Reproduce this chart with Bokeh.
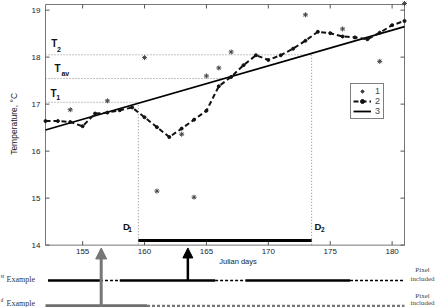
from bokeh.plotting import figure
from bokeh.models import (Range1d, Arrow, NormalHead, Legend, LegendItem)
from bokeh.embed import file_html
from bokeh.resources import INLINE
from bokeh.core.properties import value

# ---------------- data ----------------
obs_days = [154, 157, 160, 161, 163, 164, 165, 166, 167, 173, 176, 179, 181]
obs_temp = [16.88, 17.07, 17.99, 15.15, 16.36, 15.02, 17.60, 17.77, 18.11, 18.90, 18.60, 17.91, 19.14]

smooth_days = list(range(152, 182))
smooth_temp = [16.64, 16.64, 16.62, 16.53, 16.80, 16.82, 16.87, 16.93, 16.72, 16.51,
               16.30, 16.48, 16.67, 16.86, 17.38, 17.58, 17.83, 18.04, 17.94, 18.04,
               18.18, 18.35, 18.54, 18.51, 18.44, 18.42, 18.38, 18.52, 18.68, 18.77]

trend_days = [152, 181]
trend_temp = [16.45, 18.65]

thresh_main = ["T", "T", "T"]
thresh_sub = ["1", "av", "2"]
thresh_temp = [17.04, 17.545, 18.05]
thresh_day = [159.5, 166.5, 173.5]

period_main = ["D", "D"]
period_sub = ["1", "2"]
period_days = [159.5, 173.5]
period_temp = [17.04, 18.05]

x_ticks = [155, 160, 165, 170, 175, 180]
y_ticks = [14, 15, 16, 17, 18, 19]

ex1_solid_start = [152.2, 158.0, 168.15]
ex1_solid_end = [156.4, 165.7, 176.6]
ex1_dash_start = [156.4, 165.7, 176.6]
ex1_dash_end = [158.0, 168.15, 181.0]
ex2_solid_start = [152.0]
ex2_solid_end = [160.2]
ex2_dash_start = [160.2]
ex2_dash_end = [181.0]
arrow_days = [156.5, 163.5]

# ---------------- layout constants ----------------
X0, X1 = 152, 181          # plot box (days)
Y_AXIS, Y_TOP = 14, 19.12  # plot box (deg C)
PX_DAY = 359 / 29          # pixels per day
PX_DEG = 47.0              # pixels per degree
LEFT_PX, RIGHT_PX, TOP_PX, H_PX = 45, 40, 4, 307
EX1_Y = 13.25
EX2_Y = 12.70
ARROW_TIP_Y = 13.94

SANS = value("Liberation Sans")
SERIF = value("Liberation Serif")
AXC = "#777"

x_range = Range1d(X0 - LEFT_PX / PX_DAY, X1 + RIGHT_PX / PX_DAY)
y_top_canvas = Y_TOP + TOP_PX / PX_DEG
y_range = Range1d(y_top_canvas - H_PX / PX_DEG, y_top_canvas)

p = figure(width=444, height=307, output_backend="svg", toolbar_location=None,
           x_range=x_range, y_range=y_range, x_axis_location=None, y_axis_location=None,
           min_border_left=0, min_border_right=0, min_border_top=0, min_border_bottom=0)
p.outline_line_color = None
p.xgrid.visible = False
p.ygrid.visible = False
p.background_fill_color = "white"
p.border_fill_color = "white"

# ---------------- axes box, ticks, tick labels ----------------
p.segment(x0=[X0, X1, X0, X0], y0=[Y_AXIS, Y_AXIS, Y_TOP, Y_AXIS],
          x1=[X0, X1, X1, X1], y1=[Y_TOP, Y_TOP, Y_TOP, Y_AXIS],
          line_color=AXC, line_width=1)
ny, nx = len(y_ticks), len(x_ticks)
p.ray(x=[X0] * ny, y=y_ticks, length=4, length_units="screen", angle=0,
      line_color="#555", line_width=1)
p.ray(x=[X1] * ny, y=y_ticks, length=4, length_units="screen", angle=180,
      angle_units="deg", line_color="#555", line_width=1)
p.ray(x=x_ticks, y=[Y_TOP] * nx, length=4, length_units="screen", angle=-90,
      angle_units="deg", line_color="#555", line_width=1)
p.ray(x=x_ticks, y=[Y_AXIS] * nx, length=4, length_units="screen", angle=90,
      angle_units="deg", line_color="#555", line_width=1)

p.text(x=[X0] * ny, y=y_ticks, text=[str(t) for t in y_ticks], x_offset=-5,
       text_align="right", text_baseline="middle", text_font=SANS,
       text_font_size="8px", text_color="#222")
p.text(x=x_ticks, y=[Y_AXIS] * nx, text=[str(t) for t in x_ticks], y_offset=4,
       text_align="center", text_baseline="top", text_font=SANS,
       text_font_size="8px", text_color="#222")
p.text(x=[(X0 + X1) / 2], y=[Y_AXIS], text=["Julian days"], x_offset=13, y_offset=16,
       text_align="center", text_baseline="middle", text_font=SANS,
       text_font_size="7.5px", text_color="#222")
p.text(x=[X0], y=[16.58], text=["Temperature, \u00b0C"], x_offset=-32, angle=90,
       angle_units="deg", text_align="center", text_baseline="middle", text_font=SANS,
       text_font_size="8.5px", text_color="#222")

# ---------------- dotted guide lines ----------------
p.segment(x0=[X0] * 3, y0=thresh_temp, x1=thresh_day, y1=thresh_temp,
          line_color="#888", line_width=1, line_dash="1 2")
p.segment(x0=period_days, y0=period_temp, x1=period_days, y1=[Y_AXIS] * 2,
          line_color="#888", line_width=1, line_dash="1 2")
p.segment(x0=[period_days[0]], y0=[14.1], x1=[period_days[1]], y1=[14.1],
          line_color="black", line_width=3)

# ---------------- series ----------------
r_trend = p.line(trend_days, trend_temp, line_color="black", line_width=1.8)
r_smooth = p.line(smooth_days, smooth_temp, line_color="#111", line_width=2,
                  line_dash="5 3")
r_smooth_pts = p.scatter(smooth_days, smooth_temp, marker="circle", size=3,
                         fill_color="#111", line_color="#111")
r_obs = p.scatter(obs_days, obs_temp, marker="asterisk", size=5,
                  line_color="#444", line_width=1)

# ---------------- T / D labels ----------------
t_main_off = [(8, -8.7), (12, -10), (8.7, -11.6)]
t_sub_off = [(12.8, -4.5), (19.8, -5), (13.5, -5.3)]
for m, s, t, mo, so in zip(thresh_main, thresh_sub, thresh_temp, t_main_off, t_sub_off):
    p.text(x=[X0], y=[t], text=[m], x_offset=mo[0], y_offset=mo[1], text_align="center",
           text_baseline="middle", text_font=SANS, text_font_size="10px",
           text_font_style="bold", text_color="#111")
    p.text(x=[X0], y=[t], text=[s], x_offset=so[0], y_offset=so[1], text_align="center",
           text_baseline="middle", text_font=SANS, text_font_size="7px",
           text_font_style="bold", text_color="#111")

d_main_off = [(-12, -18.6), (6.3, -18.6)]
d_sub_off = [(-8.2, -15.4), (11.2, -15.4)]
for m, s, d, mo, so in zip(period_main, period_sub, period_days, d_main_off, d_sub_off):
    p.text(x=[d], y=[Y_AXIS], text=[m], x_offset=mo[0], y_offset=mo[1], text_align="center",
           text_baseline="middle", text_font=SANS, text_font_size="9.5px",
           text_font_style="bold", text_color="#111")
    p.text(x=[d], y=[Y_AXIS], text=[s], x_offset=so[0], y_offset=so[1], text_align="center",
           text_baseline="middle", text_font=SANS, text_font_size="6.5px",
           text_font_style="bold", text_color="#111")

# ---------------- legend ----------------
legend = Legend(items=[LegendItem(label="1", renderers=[r_obs]),
                       LegendItem(label="2", renderers=[r_smooth, r_smooth_pts]),
                       LegendItem(label="3", renderers=[r_trend])],
                location=(350, 188), label_text_font_size="9px",
                label_text_font="Liberation Sans", glyph_width=18, glyph_height=10,
                label_height=10, label_width=6, label_standoff=4, spacing=0,
                padding=2, margin=0, border_line_color="black", border_line_width=1)
p.add_layout(legend)

# ---------------- lower example strips ----------------
p.segment(x0=ex1_solid_start, y0=[EX1_Y] * 3, x1=ex1_solid_end, y1=[EX1_Y] * 3,
          line_color="black", line_width=2.5)
p.segment(x0=ex1_dash_start, y0=[EX1_Y] * 3, x1=ex1_dash_end, y1=[EX1_Y] * 3,
          line_color="black", line_width=1.5, line_dash="3 2")
p.segment(x0=ex2_solid_start, y0=[EX2_Y], x1=ex2_solid_end, y1=[EX2_Y],
          line_color="#6e6e6e", line_width=4)
p.segment(x0=ex2_dash_start, y0=[EX2_Y], x1=ex2_dash_end, y1=[EX2_Y],
          line_color="#777", line_width=3, line_dash="3 2")

p.add_layout(Arrow(end=NormalHead(size=11, fill_color="#777", line_color="#777"),
                   x_start=arrow_days[0], y_start=12.4, x_end=arrow_days[0],
                   y_end=ARROW_TIP_Y, line_color="#777", line_width=3))
p.add_layout(Arrow(end=NormalHead(size=10, fill_color="black", line_color="black"),
                   x_start=arrow_days[1], y_start=EX1_Y, x_end=arrow_days[1],
                   y_end=ARROW_TIP_Y, line_color="black", line_width=2.5))

ex_rows = [(EX1_Y, "st", -4, -1, -10, -1), (EX2_Y, "d", -6, -3, -10, -3)]
for ey, sup, sup_dy, ex_dy, pix_dy, inc_dy in ex_rows:
    p.text(x=[X0], y=[ey], text=[sup], x_offset=-45, y_offset=sup_dy, text_align="left",
           text_baseline="middle", text_font=SERIF, text_font_size="5.5px",
           text_color="#333")
    p.text(x=[X0], y=[ey], text=["Example"], x_offset=-39, y_offset=ex_dy,
           text_align="left", text_baseline="middle", text_font=SERIF,
           text_font_size="8px", text_color="#333")
    p.text(x=[X1], y=[ey], text=["Pixel"], x_offset=18, y_offset=pix_dy,
           text_align="center", text_baseline="middle", text_font=SERIF,
           text_font_size="7px", text_color="#444")
    p.text(x=[X1], y=[ey], text=["included"], x_offset=18, y_offset=inc_dy,
           text_align="center", text_baseline="middle", text_font=SERIF,
           text_font_size="7px", text_color="#444")

open("out.html", "w").write(file_html(p, INLINE))
